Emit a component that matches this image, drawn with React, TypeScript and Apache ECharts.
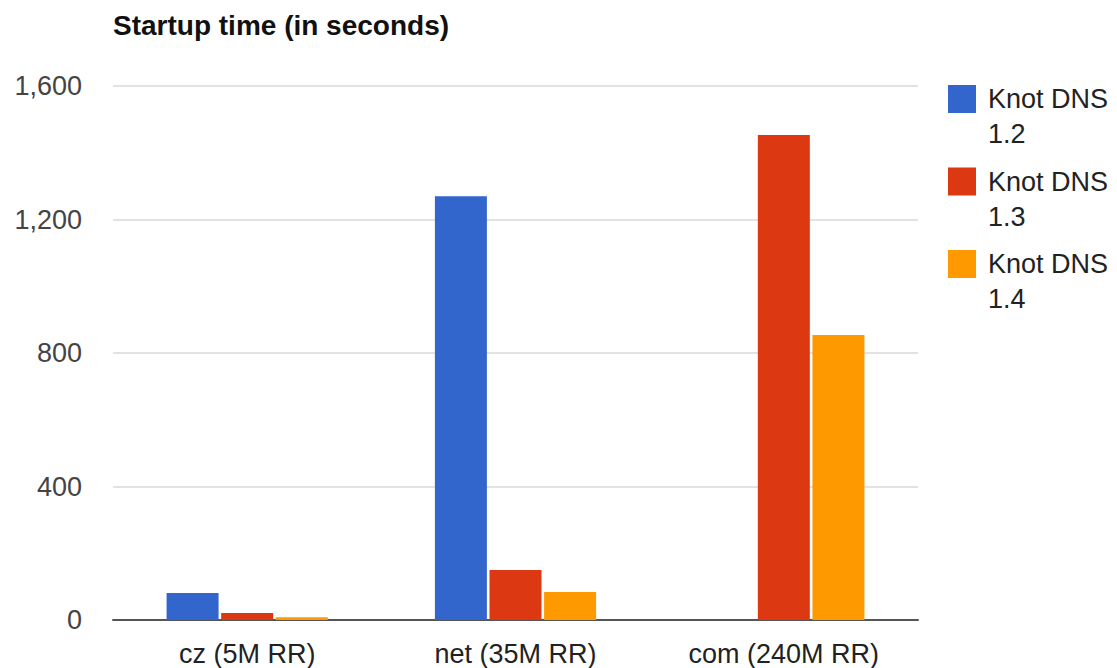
import React, { useEffect, useRef } from "react";
import * as echarts from "echarts";

const title = "Startup time (in seconds)";
const categories = ["cz (5M RR)", "net (35M RR)", "com (240M RR)"];
const seriesNames = ["Knot DNS 1.2", "Knot DNS 1.3", "Knot DNS 1.4"];
const knot12 = [81, 1270, 0];
const knot13 = [21, 150, 1453];
const knot14 = [8, 84, 854];
const seriesColors = ["#3366cc", "#dc3912", "#ff9900"];
const yTicks = [0, 400, 800, 1200, 1600];

const FONT = "'Liberation Sans', Arial, Helvetica, sans-serif";

export default function App() {
  const ref = useRef<HTMLDivElement>(null);

  useEffect(() => {
    if (!ref.current) return;
    const chart = echarts.init(ref.current, undefined, { renderer: "svg" });
    const values = [knot12, knot13, knot14];
    const option = {
      animation: false,
      backgroundColor: "#ffffff",
      textStyle: { fontFamily: FONT },
      title: {
        text: title,
        left: 113,
        top: 11,
        padding: 0,
        textStyle: {
          fontFamily: FONT,
          fontSize: 28,
          fontWeight: "bold",
          color: "#111111",
        },
      },
      legend: {
        orient: "vertical",
        left: 948,
        top: 81.5,
        padding: 0,
        itemGap: 12.5,
        itemWidth: 28,
        itemHeight: 63,
        icon: "path://M0,0H28V28H0Z M0,63H0.01V63.01H0Z",
        data: seriesNames,
        formatter: (name: string) => {
          const i = name.lastIndexOf(" ");
          return name.slice(0, i) + "\n" + name.slice(i + 1);
        },
        textStyle: {
          fontFamily: FONT,
          fontSize: 27,
          lineHeight: 35,
          color: "#222222",
          padding: [0, 0, 0, 7],
        },
      },
      grid: {
        left: 113,
        right: 199,
        top: 86,
        bottom: 48,
        containLabel: false,
      },
      xAxis: {
        type: "category",
        data: categories,
        axisTick: { show: false },
        axisLine: { show: true, lineStyle: { color: "#555555", width: 2 } },
        axisLabel: {
          margin: 20,
          fontFamily: FONT,
          fontSize: 27,
          color: "#222222",
        },
      },
      yAxis: {
        type: "value",
        min: yTicks[0],
        max: yTicks[yTicks.length - 1],
        interval: yTicks[1] - yTicks[0],
        axisLine: { show: false },
        axisTick: { show: false },
        splitLine: { show: true, lineStyle: { color: "#e2e2e2", width: 2 } },
        axisLabel: {
          margin: 31,
          fontFamily: FONT,
          fontSize: 27,
          color: "#444444",
          formatter: (v: number) => v.toLocaleString("en-US"),
        },
      },
      series: seriesNames.map((name, i) => ({
        name,
        type: "bar",
        data: values[i],
        barWidth: 52,
        barGap: "5%",
        itemStyle: { color: seriesColors[i] },
      })),
    };
    chart.setOption(option as any);
    return () => chart.dispose();
  }, []);

  return (
    <div
      ref={ref}
      style={{ position: "fixed", left: 0, top: 0, width: 1117, height: 668 }}
    />
  );
}
